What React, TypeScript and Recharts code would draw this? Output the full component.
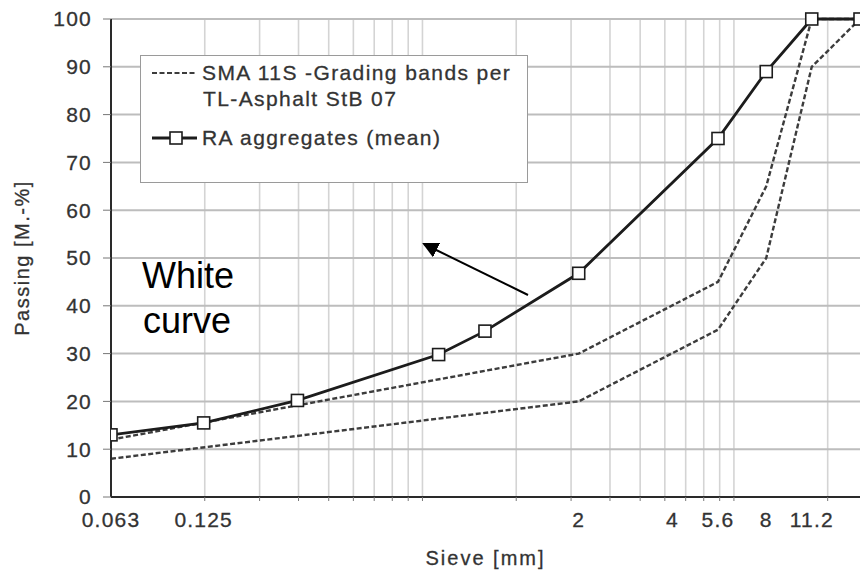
import { LineChart, Line, XAxis, YAxis, CartesianGrid, Legend } from "recharts";

// sieve sizes [mm] and passing [M.-%]
const SIEVE_MEAN = [0.063, 0.125, 0.25, 0.71, 1, 2, 5.6, 8, 11.2, 16];
const RA_MEAN = [13, 15.5, 20.2, 29.8, 34.7, 46.8, 75, 89, 100, 100];

const SIEVE_BAND = [0.063, 2, 5.6, 8, 11.2, 16];
const BAND_UPPER = [12, 30, 45, 65, 100, 100];
const BAND_LOWER = [8, 20, 35, 50, 90, 100];

const X_LABELS = [0.063, 0.125, 2, 4, 5.6, 8, 11.2];
const GRID_X = [0.126, 0.189, 0.252, 0.315, 0.378, 0.441, 0.504, 0.567, 0.63, 1.26, 1.89, 2.52, 3.15, 3.78, 4.41, 5.04, 5.67, 6.3, 12.6];
const Y_TICKS = [0, 10, 20, 30, 40, 50, 60, 70, 80, 90, 100];

const FONT = "'Liberation Sans', Arial, sans-serif";
const TEXT = "#333";
const INK = "#1c1c1c";
const DASH = "#3c3c3c";

const meanData = SIEVE_MEAN.map((x, i) => ({ x, y: RA_MEAN[i] }));
const upperData = SIEVE_BAND.map((x, i) => ({ x, y: BAND_UPPER[i] }));
const lowerData = SIEVE_BAND.map((x, i) => ({ x, y: BAND_LOWER[i] }));
const xTicks = [...new Set([...X_LABELS, ...GRID_X])].sort((a, b) => a - b);

function SieveTick({ x, y, payload }: any) {
  const v = payload.value;
  return (
    <g>
      {GRID_X.includes(v) && <line x1={x} x2={x} y1={y} y2={y + 4} stroke="#777" />}
      {X_LABELS.includes(v) && (
        <text x={x} y={y + 15} dy="0.71em" textAnchor="middle" fontSize={21} fontFamily={FONT}
          fill={TEXT} letterSpacing={1.2} stroke={TEXT} strokeWidth={0.3}>{v}</text>
      )}
    </g>
  );
}

function SquareDot({ cx, cy, index }: any) {
  return <rect key={index} x={cx - 6} y={cy - 6} width={12} height={12} fill="#fff" stroke={INK} strokeWidth={1.6} />;
}

function GradingLegend() {
  return (
    <svg width={388} height={128} style={{ display: "block" }}>
      <rect x={0.5} y={0.5} width={387} height={127} fill="#fff" stroke="#9a9a9a" />
      <line x1={12} x2={57} y1={18} y2={18} stroke={DASH} strokeWidth={2.2} strokeDasharray="5 2.5" />
      <g fontFamily={FONT} fontSize={21} fill={TEXT} letterSpacing={1.4} stroke={TEXT} strokeWidth={0.3}>
        <text x={62} y={25}>SMA 11S -Grading bands per</text>
        <text x={63} y={51}>TL-Asphalt StB 07</text>
        <text x={62} y={90}>RA aggregates (mean)</text>
      </g>
      <line x1={12} x2={57} y1={83} y2={83} stroke={INK} strokeWidth={2.8} />
      <rect x={30} y={77} width={12} height={12} fill="#fff" stroke={INK} strokeWidth={1.6} />
    </svg>
  );
}

export default function App() {
  return (
    <div style={{ position: "absolute", left: 0, top: 0, width: 863, height: 571, background: "#fff" }}>
      <LineChart width={863} height={571} margin={{ top: 19, right: 3, left: 0, bottom: 0 }}>
        <CartesianGrid horizontal={false} verticalValues={GRID_X} stroke="#d4d4d4" strokeWidth={1.6} />
        <CartesianGrid vertical={false} stroke="#bdbdbd" strokeWidth={2} />
        <XAxis dataKey="x" type="number" scale="log" domain={[0.063, 16]} allowDataOverflow
          ticks={xTicks} interval={0} tick={<SieveTick />} tickSize={0} tickMargin={0} tickLine={false}
          height={74} axisLine={{ stroke: "#2a2a2a", strokeWidth: 2 }}
          label={{ value: "Sieve [mm]", position: "insideBottom", offset: 6, fill: TEXT, fontSize: 20,
            fontFamily: FONT, style: { letterSpacing: 2, stroke: TEXT, strokeWidth: 0.3 } }} />
        <XAxis xAxisId="top" orientation="top" dataKey="x" type="number" scale="log" domain={[0.063, 16]}
          allowDataOverflow height={0} tick={false} tickLine={false}
          axisLine={{ stroke: "#777", strokeWidth: 1.5 }} />
        <YAxis type="number" domain={[0, 100]} ticks={Y_TICKS} interval={0} width={111}
          tick={{ fill: TEXT, fontSize: 21, fontFamily: FONT, letterSpacing: 1.2, stroke: TEXT, strokeWidth: 0.3 }}
          tickSize={8} tickMargin={11} tickLine={{ stroke: "#777" }}
          axisLine={{ stroke: "#2a2a2a", strokeWidth: 2 }}
          label={{ value: "Passing [M.-%]", angle: -90, position: "insideLeft", offset: 22, fill: TEXT,
            fontSize: 20, fontFamily: FONT, style: { textAnchor: "middle", letterSpacing: 1.5, stroke: TEXT, strokeWidth: 0.3 } }} />
        <YAxis yAxisId="right" orientation="right" type="number" domain={[0, 100]} width={0}
          tick={false} tickLine={false} axisLine={{ stroke: "#666", strokeWidth: 1.5 }} />
        <Legend layout="horizontal" verticalAlign="middle" align="center" content={<GradingLegend />}
          wrapperStyle={{ left: 140, top: 55, width: 388, height: 128 }} />
        <Line data={upperData} dataKey="y" type="linear" stroke={DASH} strokeWidth={2.4}
          strokeDasharray="5 2.5" dot={false} isAnimationActive={false} />
        <Line data={lowerData} dataKey="y" type="linear" stroke={DASH} strokeWidth={2.4}
          strokeDasharray="5 2.5" dot={false} isAnimationActive={false} />
        <Line data={meanData} dataKey="y" type="linear" stroke={INK} strokeWidth={2.8}
          dot={<SquareDot />} isAnimationActive={false} />
      </LineChart>
      <svg width={863} height={571} style={{ position: "absolute", left: 0, top: 0, pointerEvents: "none" }}>
        <defs>
          <marker id="head" markerWidth={8} markerHeight={8} refX={7} refY={4} orient="auto" markerUnits="strokeWidth">
            <path d="M0,0 L8,4 L0,8 z" fill="#000" />
          </marker>
        </defs>
        <g fontFamily="Arial, 'Liberation Sans', sans-serif" fontSize={36} fill="#000">
          <text x={142} y={288}>White</text>
          <text x={143} y={333}>curve</text>
        </g>
        <line x1={528} y1={295} x2={424} y2={244} stroke="#000" strokeWidth={2} markerEnd="url(#head)" />
      </svg>
    </div>
  );
}
